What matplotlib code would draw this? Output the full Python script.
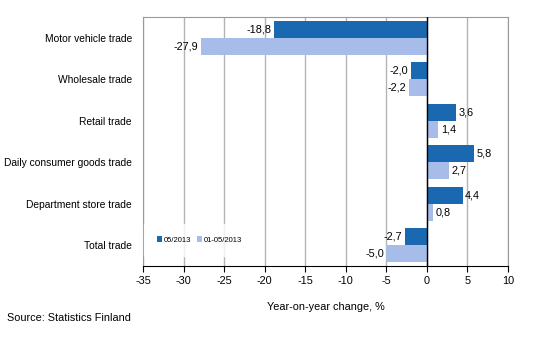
import matplotlib.pyplot as plt
import numpy as np

plt.rcParams['font.family'] = ['Liberation Sans', 'DejaVu Sans']
plt.rcParams['axes.unicode_minus'] = False

# data
categories = ["Motor vehicle trade", "Wholesale trade", "Retail trade",
              "Daily consumer goods trade", "Department store trade", "Total trade"]
month_vals = [-18.8, -2.0, 3.6, 5.8, 4.4, -2.7]
ytd_vals = [-27.9, -2.2, 1.4, 2.7, 0.8, -5.0]
series_names = ["05/2013", "01-05/2013"]
colors = ["#1a69b0", "#a7bce9"]

fig = plt.figure(figsize=(5.34, 3.6), dpi=100)
ax = fig.add_axes([143 / 534, 1 - 266 / 360, (508 - 143) / 534, (266 - 17) / 360])

y = np.arange(len(categories))
h = 0.41
b1 = ax.barh(y - h / 2, month_vals, height=h, color=colors[0], label=series_names[0], zorder=3)
b2 = ax.barh(y + h / 2, ytd_vals, height=h, color=colors[1], label=series_names[1], zorder=3)

def fmt(v):
    return f"{v:.1f}".replace(".", ",")

for bars, vals in ((b1, month_vals), (b2, ytd_vals)):
    for bar, v in zip(bars, vals):
        yy = bar.get_y() + bar.get_height() / 2
        if v < 0:
            ax.text(v - 0.3, yy, fmt(v), ha="right", va="center", fontsize=7.8, zorder=5)
        else:
            ax.text(v + 0.3, yy, fmt(v), ha="left", va="center", fontsize=7.8, zorder=5)

ax.set_xlim(-35, 10)
ax.set_ylim(len(categories) - 0.5, -0.5)
ax.set_xticks(np.arange(-35, 11, 5))
ax.set_yticks(y)
ax.set_yticklabels(categories, fontsize=7.4)
ax.tick_params(axis="y", length=0, pad=8)
ax.tick_params(axis="x", labelsize=7.8, length=4, direction="out", color="black")
ax.xaxis.grid(True, color="#b4b4b4", linewidth=1, zorder=0)
ax.axvline(0, color="black", linewidth=1, zorder=4)

for s in ("left", "top", "right"):
    ax.spines[s].set_color("#999999")
ax.spines["bottom"].set_color("black")

ax.set_xlabel("Year-on-year change, %", fontsize=7.8, labelpad=11)

leg = ax.legend(loc="center left", bbox_to_anchor=(0.004, 0.105), ncol=2, fontsize=5.5,
                frameon=True, handlelength=0.7, handleheight=0.7, handletextpad=0.2,
                columnspacing=0.8, borderpad=1.6, borderaxespad=0, fancybox=False)
leg.get_frame().set_edgecolor("white")
leg.get_frame().set_facecolor("white")
leg.set_zorder(3.5)

fig.text(7 / 534, 1 - 318 / 360, "Source: Statistics Finland", fontsize=7.8, va="center")

fig.savefig("out.png", dpi=100)
